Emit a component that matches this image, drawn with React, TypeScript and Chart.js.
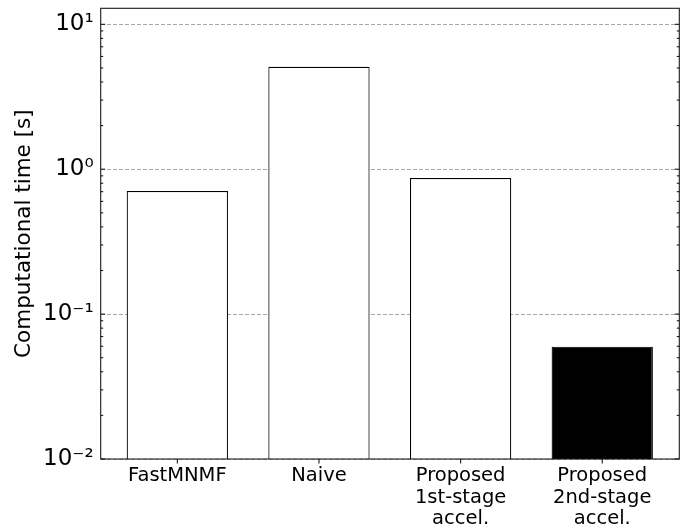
import React, { useEffect, useRef } from "react";
import { Chart, registerables } from "chart.js";

Chart.register(...registerables);

// ---- data ----
const categories: string[][] = [
  ["FastMNMF"],
  ["Naive"],
  ["Proposed", "1st-stage", "accel."],
  ["Proposed", "2nd-stage", "accel."],
];
const timesSec: number[] = [0.707, 5.1, 0.869, 0.0596];
const barFills: string[] = ["#ffffff", "#ffffff", "#ffffff", "#000000"];
const yTickValues: number[] = [0.01, 0.1, 1, 10];
const yTickLabels: string[] = ["10⁻²", "10⁻¹", "10⁰", "10¹"];
const yMin = 0.01;
const yMax = 12.9;
const xMin = -0.541;
const xMax = 3.544;

const FONT = "'DejaVu Sans', sans-serif";

const isPow10 = (v: number) => {
  const e = Math.log10(v);
  return Math.abs(e - Math.round(e)) < 1e-6;
};

const axisDecor = {
  id: "axisDecor",
  afterDraw(chart: any) {
    const { ctx, chartArea, scales } = chart;
    const { left, right, top, bottom } = chartArea;
    const x = scales.x;
    const y = scales.y;
    ctx.save();
    ctx.strokeStyle = "#1a1a1a";
    ctx.lineWidth = 1.1;
    const line = (x1: number, y1: number, x2: number, y2: number) => {
      ctx.beginPath();
      ctx.moveTo(x1, y1);
      ctx.lineTo(x2, y2);
      ctx.stroke();
    };
    y.ticks.forEach((t: any) => {
      const v = t.value;
      const exp = Math.floor(Math.log10(v) + 1e-9);
      const sig = v / Math.pow(10, exp);
      if (Math.abs(sig - Math.round(sig)) > 1e-6) return;
      const major = Math.round(sig) === 1;
      const len = major ? 4.5 : 2.5;
      const py = y.getPixelForValue(v);
      if (py < top - 0.5 || py > bottom + 0.5) return;
      line(left, py, left + len, py);
      line(right, py, right - len, py);
    });
    x.ticks.forEach((t: any) => {
      const px = x.getPixelForValue(t.value);
      line(px, bottom, px, bottom + 4.5);
    });
    ctx.strokeRect(left, top, right - left, bottom - top);
    ctx.restore();
  },
};

export default function App() {
  const ref = useRef<HTMLCanvasElement | null>(null);
  useEffect(() => {
    document.body.style.margin = "0";
    const canvas = ref.current!;
    const chart = new Chart(canvas, {
      type: "bar",
      data: {
        datasets: [
          {
            data: timesSec.map((v, i) => ({ x: i, y: v })),
            backgroundColor: barFills,
            borderColor: "#000000",
            borderWidth: 1.2,
            borderSkipped: "start",
            barPercentage: 0.715,
            categoryPercentage: 1,
          },
        ],
      },
      options: {
        animation: false,
        responsive: false,
        devicePixelRatio: 1,
        layout: { padding: { left: 0, top: 8.3, right: 10.7, bottom: 0 } },
        plugins: {
          legend: { display: false },
          tooltip: { enabled: false },
        },
        scales: {
          x: {
            type: "linear",
            min: xMin,
            max: xMax,
            offset: false,
            grid: { display: false, offset: false, drawTicks: false },
            border: { display: false },
            afterBuildTicks: (scale: any) => {
              scale.ticks = categories.map((_, i) => ({ value: i }));
            },
            afterFit: (scale: any) => {
              scale.height = 72;
              scale.paddingLeft = 0;
              scale.paddingRight = 0;
            },
            ticks: {
              autoSkip: false,
              maxRotation: 0,
              padding: 6,
              color: "#000000",
              font: { family: FONT, size: 19.5, lineHeight: 1.11 },
              callback: (value: any) => categories[Math.round(Number(value))] ?? "",
            },
          },
          y: {
            type: "logarithmic",
            min: yMin,
            max: yMax,
            grid: {
              drawTicks: false,
              lineWidth: 1,
              color: (c: any) =>
                c.tick && isPow10(c.tick.value) ? "#a8a8a8" : "rgba(0,0,0,0)",
            },
            border: { display: false, dash: [4, 2] },
            afterFit: (scale: any) => {
              scale.width = 100.7;
              scale.paddingTop = 0;
              scale.paddingBottom = 0;
            },
            title: {
              display: true,
              text: "Computational time [s]",
              color: "#000000",
              font: { family: FONT, size: 21.5 },
              padding: { top: 12, bottom: 0 },
            },
            ticks: {
              autoSkip: false,
              padding: 7,
              color: "#000000",
              font: { family: FONT, size: 23 },
              callback: (value: any) => {
                const v = Number(value);
                const idx = yTickValues.findIndex((t) => Math.abs(t - v) / t < 1e-6);
                return idx >= 0 ? yTickLabels[idx] : "";
              },
            },
          },
        },
      },
      plugins: [axisDecor],
    });
    return () => chart.destroy();
  }, []);
  return (
    <div style={{ position: "absolute", left: 0, top: 0, width: 690, height: 531 }}>
      <canvas ref={ref} width={690} height={531} />
    </div>
  );
}
